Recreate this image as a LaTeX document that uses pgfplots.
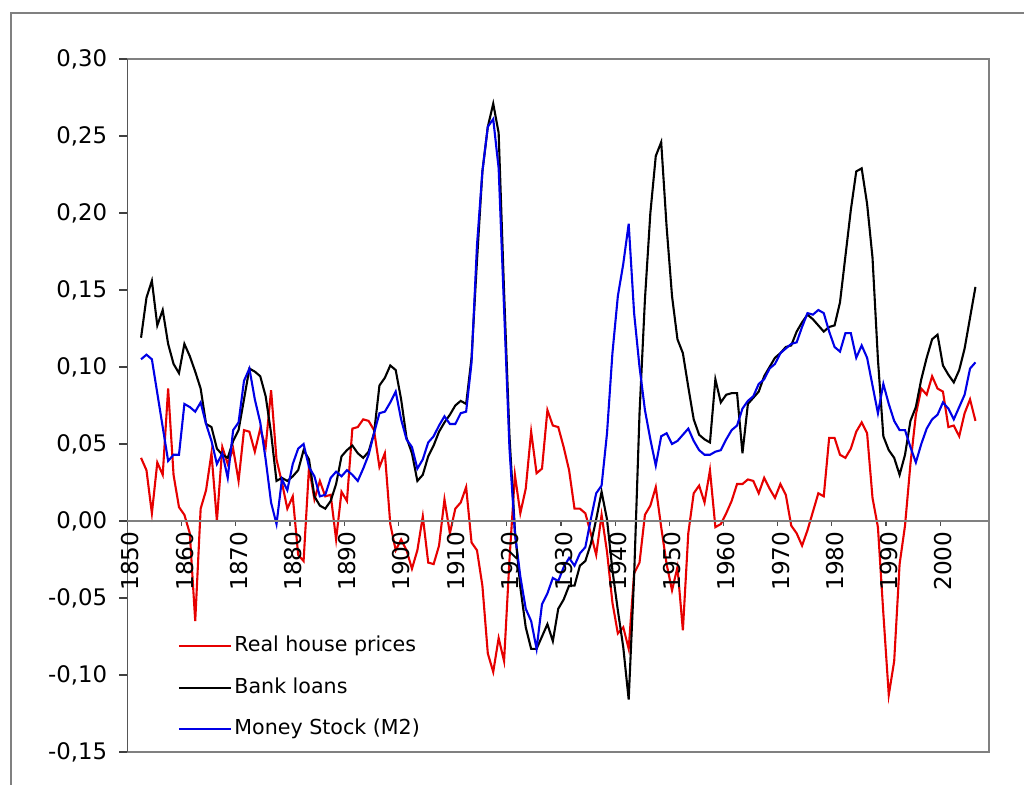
\documentclass[border=0pt]{standalone}
\usepackage{fontspec}
\setmainfont{DejaVu Sans}
\usepackage{pgfplots}
\usepackage{pgfplotstable}
\pgfplotsset{compat=1.18}
\definecolor{cred}{RGB}{230,0,0}
\definecolor{cblue}{RGB}{0,0,230}
\definecolor{frame}{RGB}{128,128,128}
\pgfplotstableread{
year house bank money
1852 0.041 0.119 0.105
1853 0.033 0.145 0.108
1854 0.005 0.156 0.105
1855 0.038 0.127 0.083
1856 0.030 0.137 0.061
1857 0.086 0.115 0.039
1858 0.030 0.102 0.043
1859 0.009 0.096 0.043
1860 0.004 0.115 0.076
1861 -0.008 0.107 0.074
1862 -0.065 0.097 0.071
1863 0.008 0.086 0.077
1864 0.020 0.063 0.063
1865 0.044 0.061 0.052
1866 0.000 0.047 0.037
1867 0.048 0.043 0.044
1868 0.037 0.041 0.028
1869 0.047 0.052 0.059
1870 0.026 0.059 0.064
1871 0.059 0.079 0.091
1872 0.058 0.099 0.099
1873 0.045 0.097 0.079
1874 0.060 0.094 0.064
1875 0.048 0.081 0.040
1876 0.085 0.057 0.012
1877 0.040 0.026 -0.002
1878 0.025 0.028 0.027
1879 0.008 0.026 0.020
1880 0.016 0.029 0.037
1881 -0.022 0.033 0.047
1882 -0.026 0.046 0.050
1883 0.035 0.040 0.035
1884 0.014 0.016 0.029
1885 0.026 0.010 0.016
1886 0.016 0.008 0.017
1887 0.017 0.013 0.028
1888 -0.012 0.024 0.032
1889 0.019 0.042 0.029
1890 0.013 0.046 0.033
1891 0.060 0.049 0.030
1892 0.061 0.044 0.026
1893 0.066 0.041 0.034
1894 0.065 0.045 0.043
1895 0.059 0.057 0.057
1896 0.035 0.088 0.070
1897 0.044 0.093 0.071
1898 -0.002 0.101 0.077
1899 -0.019 0.098 0.084
1900 -0.012 0.079 0.066
1901 -0.019 0.054 0.053
1902 -0.031 0.044 0.048
1903 -0.019 0.026 0.034
1904 0.003 0.030 0.040
1905 -0.027 0.042 0.051
1906 -0.028 0.049 0.055
1907 -0.016 0.058 0.062
1908 0.014 0.064 0.068
1909 -0.008 0.069 0.063
1910 0.008 0.075 0.063
1911 0.012 0.078 0.070
1912 0.022 0.076 0.071
1913 -0.014 0.106 0.103
1914 -0.019 0.169 0.179
1915 -0.042 0.227 0.227
1916 -0.086 0.256 0.256
1917 -0.098 0.271 0.261
1918 -0.076 0.252 0.229
1919 -0.091 0.149 0.138
1920 -0.025 0.055 0.047
1921 0.030 -0.006 -0.008
1922 0.005 -0.043 -0.036
1923 0.021 -0.069 -0.057
1924 0.058 -0.083 -0.065
1925 0.031 -0.083 -0.083
1926 0.034 -0.075 -0.054
1927 0.072 -0.067 -0.047
1928 0.062 -0.078 -0.037
1929 0.061 -0.057 -0.039
1930 0.048 -0.051 -0.030
1931 0.033 -0.042 -0.024
1932 0.008 -0.042 -0.029
1933 0.008 -0.029 -0.021
1934 0.005 -0.026 -0.017
1935 -0.008 -0.015 0.001
1936 -0.022 0.001 0.018
1937 0.004 0.019 0.023
1938 -0.020 0.001 0.057
1939 -0.053 -0.032 0.109
1940 -0.073 -0.058 0.146
1941 -0.069 -0.082 0.167
1942 -0.083 -0.116 0.193
1943 -0.034 -0.036 0.135
1944 -0.027 0.070 0.100
1945 0.004 0.144 0.072
1946 0.010 0.200 0.053
1947 0.022 0.237 0.036
1948 -0.004 0.246 0.055
1949 -0.028 0.191 0.057
1950 -0.045 0.146 0.050
1951 -0.030 0.118 0.052
1952 -0.071 0.109 0.056
1953 -0.008 0.087 0.060
1954 0.018 0.066 0.052
1955 0.023 0.056 0.046
1956 0.012 0.053 0.043
1957 0.033 0.051 0.043
1958 -0.004 0.092 0.045
1959 -0.002 0.077 0.046
1960 0.005 0.082 0.053
1961 0.013 0.083 0.059
1962 0.024 0.083 0.062
1963 0.024 0.044 0.073
1964 0.027 0.076 0.078
1965 0.026 0.080 0.081
1966 0.018 0.084 0.089
1967 0.028 0.094 0.092
1968 0.021 0.100 0.099
1969 0.015 0.106 0.102
1970 0.024 0.109 0.109
1971 0.017 0.113 0.112
1972 -0.003 0.114 0.115
1973 -0.008 0.123 0.116
1974 -0.016 0.129 0.126
1975 -0.006 0.134 0.135
1976 0.006 0.131 0.134
1977 0.018 0.127 0.137
1978 0.016 0.123 0.135
1979 0.054 0.126 0.123
1980 0.054 0.127 0.113
1981 0.043 0.142 0.110
1982 0.041 0.172 0.122
1983 0.047 0.202 0.122
1984 0.058 0.227 0.106
1985 0.064 0.229 0.114
1986 0.057 0.206 0.106
1987 0.015 0.171 0.088
1988 -0.004 0.105 0.070
1989 -0.060 0.055 0.089
1990 -0.113 0.046 0.076
1991 -0.091 0.041 0.065
1992 -0.028 0.030 0.059
1993 -0.003 0.043 0.059
1994 0.037 0.065 0.048
1995 0.069 0.074 0.038
1996 0.086 0.092 0.050
1997 0.082 0.106 0.060
1998 0.094 0.118 0.066
1999 0.086 0.121 0.069
2000 0.084 0.101 0.077
2001 0.061 0.095 0.073
2002 0.062 0.090 0.066
2003 0.055 0.098 0.074
2004 0.070 0.112 0.082
2005 0.079 0.132 0.099
2006 0.065 0.152 0.103
}\datatable
\begin{document}
\begin{tikzpicture}
\useasboundingbox (0,0) rectangle (512pt,-392.5pt);
\draw[line width=0.75pt, frame] (5.5pt,-394pt) -- (5.5pt,-6.5pt) -- (514pt,-6.5pt);
\begin{axis}[
  at={(63.75pt,-376pt)}, anchor=south west,
  scale only axis, width=430.75pt, height=346.5pt,
  xmin=1849.5, xmax=2008.5, ymin=-0.15, ymax=0.30,
  axis line style={draw=frame, line width=0.75pt},
  xtick=\empty,
  ytick={-0.15,-0.10,-0.05,0,0.05,0.10,0.15,0.20,0.25,0.30},
  ytick pos=left, tick align=outside, major tick length=4pt,
  ytick style={draw=black!75, line width=0.6pt},
  yticklabel={\pgfmathprintnumber[fixed,fixed zerofill,precision=2,use comma,assume math mode=true]{\tick}},
  yticklabel style={font=\fontsize{11.4pt}{13pt}\selectfont, anchor=east, xshift=-2.6pt},
  legend style={draw=none, fill=none, at={(rel axis cs:0.058,0.0925)}, anchor=west,
    inner sep=0pt, row sep=7.75pt,
    nodes={inner sep=1.25pt, text height=8pt, text depth=2.5pt, font=\fontsize{10.3pt}{12pt}\selectfont}},
  legend cell align=left,
  legend image code/.code={\draw[#1] (0pt,0pt) -- (26pt,0pt);},
]
\addplot[cred, line width=1.05pt] table[x=year, y=house] {\datatable};
\addlegendentry{Real house prices}
\addplot[black, line width=1.05pt] table[x=year, y=bank] {\datatable};
\addlegendentry{Bank loans}
\addplot[cblue, line width=1.05pt] table[x=year, y=money] {\datatable};
\addlegendentry{Money Stock (M2)}
\draw[black!75, line width=0.75pt] (rel axis cs:0,0) -- (rel axis cs:0,1);
\end{axis}
\begin{axis}[
  at={(63.75pt,-376pt)}, anchor=south west,
  scale only axis, width=430.75pt, height=346.5pt,
  xmin=1849.5, xmax=2008.5, ymin=-0.15, ymax=0.30,
  axis x line=middle, axis y line=none,
  x axis line style={-, draw=frame, line width=0.75pt},
  xtick={1849.5,1859.5,1869.5,1879.5,1889.5,1899.5,1909.5,1919.5,1929.5,1939.5,1949.5,1959.5,1969.5,1979.5,1989.5,1999.5},
  xticklabels={1850,1860,1870,1880,1890,1900,1910,1920,1930,1940,1950,1960,1970,1980,1990,2000},
  ytick=\empty,
  tick align=outside, major tick length=2.5pt,
  xtick style={draw=black!70, line width=0.6pt},
  xticklabel style={font=\fontsize{11.6pt}{13pt}\selectfont, xshift=1.5pt, rotate=90, anchor=east, inner sep=2.6pt},
]
\end{axis}
\end{tikzpicture}
\end{document}
